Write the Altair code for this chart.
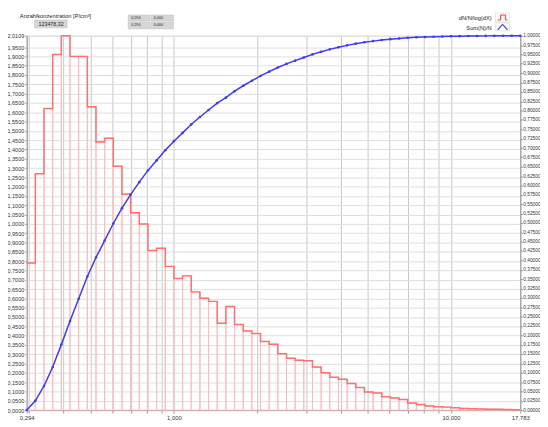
import altair as alt
import pandas as pd

# bin edges (µm), 32 channels per decade
edges = [0.2943, 0.3162, 0.3398, 0.3652, 0.3924, 0.4217, 0.4532, 0.4870, 0.5233, 0.5623,
         0.6043, 0.6494, 0.6978, 0.7499, 0.8058, 0.8660, 0.9306, 1.0000, 1.0746, 1.1548,
         1.2409, 1.3335, 1.4330, 1.5399, 1.6548, 1.7783, 1.9110, 2.0535, 2.2067, 2.3714,
         2.5483, 2.7384, 2.9427, 3.1623, 3.3982, 3.6517, 3.9242, 4.2170, 4.5316, 4.8697,
         5.2330, 5.6234, 6.0430, 6.4938, 6.9783, 7.4989, 8.0584, 8.6596, 9.3057, 10.000,
         10.746, 11.548, 12.409, 13.335, 14.330, 15.399, 16.548, 17.783]

# dN/N/log(dX) per channel
dndlog = [0.79, 1.27, 1.62, 1.91, 2.0109, 1.90, 1.90, 1.63, 1.44, 1.46,
          1.31, 1.16, 1.06, 1.00, 0.857, 0.869, 0.772, 0.707, 0.721, 0.635,
          0.601, 0.584, 0.467, 0.556, 0.460, 0.425, 0.411, 0.369, 0.354, 0.303,
          0.279, 0.268, 0.265, 0.231, 0.201, 0.176, 0.166, 0.143, 0.122, 0.097,
          0.092, 0.072, 0.065, 0.057, 0.038, 0.030, 0.022, 0.018, 0.016, 0.013,
          0.009, 0.007, 0.006, 0.005, 0.004, 0.003, 0.002]

# Sum(N)/N at each edge
cumfrac = [0.0, 0.0247, 0.0645, 0.1151, 0.1749, 0.2378, 0.2973, 0.3567, 0.4077, 0.4528,
           0.4985, 0.5395, 0.5758, 0.6089, 0.6402, 0.6670, 0.6942, 0.7184, 0.7405, 0.7631,
           0.7829, 0.8017, 0.8200, 0.8346, 0.8520, 0.8664, 0.8797, 0.8926, 0.9041, 0.9152,
           0.9247, 0.9334, 0.9418, 0.9501, 0.9573, 0.9636, 0.9691, 0.9743, 0.9788, 0.9826,
           0.9856, 0.9885, 0.9908, 0.9928, 0.9946, 0.9958, 0.9967, 0.9974, 0.9980, 0.9985,
           0.9989, 0.9992, 0.9994, 0.9996, 0.9997, 0.9998, 0.9999, 1.0]

x_grid = [0.2943, 0.3, 0.4, 0.5, 0.6, 0.7, 0.8, 0.9, 1, 2, 3, 4, 5, 6, 7, 8, 9, 10, 17.783]
left_ticks = [round(i * 0.05, 2) for i in range(40)] + [2.0109]
right_ticks = [round(i * 0.025, 3) for i in range(41)]

FONT = "Liberation Sans"
W, H = 501, 380

bins = pd.DataFrame({"lo": edges[:-1], "hi": edges[1:], "h": dndlog})
step = pd.DataFrame({"x": edges, "h": dndlog + [dndlog[-1]]})
cum = pd.DataFrame({"x": edges, "c": cumfrac})

xscale = alt.Scale(type="log", domain=[edges[0], edges[-1]], nice=False)
xaxis = alt.Axis(
    values=x_grid, title=None, grid=True, gridColor="#c8c8c8", gridWidth=1,
    labelExpr="datum.value < 0.295 ? '0,294' : datum.value == 1 ? '1,000' : datum.value == 10 ? '10,000' : datum.value > 17 ? '17,783' : ''",
    labelOverlap=False, labelFontSize=6, labelFont=FONT, labelColor="#333",
    tickSize=3, tickColor="#999", labelPadding=2, domainColor="#999",
    labelBound=False, labelFlush=False,
)
yscale_l = alt.Scale(domain=[0, 2.0109], nice=False, zero=True)
yaxis_l = alt.Axis(
    values=left_ticks, title=None, grid=True, gridColor="#dedede",
    labelExpr="replace(format(datum.value, '.4f'), '.', ',')",
    labelFontSize=5.6, labelFont=FONT, labelColor="#333", labelOverlap=False,
    labelBound=False, labelFlush=False,
    tickSize=2, tickColor="#999", labelPadding=1, domainColor="#999",
)
yscale_r = alt.Scale(domain=[0, 1], nice=False)
yaxis_r = alt.Axis(orient="right", values=right_ticks, title=None, grid=False,
                   labelExpr="replace(format(datum.value, '.5f'), '.', ',')",
                   labelFontSize=4.9, labelFont=FONT, labelColor="#333",
                   labelOverlap=False, labelBound=False, labelFlush=False,
                   tickSize=2, tickColor="#888", labelPadding=0.5, domainColor="#999")

rects = alt.Chart(bins).mark_rect(fill=None, stroke="#ffbcbc", strokeWidth=1).encode(
    x=alt.X("lo:Q", scale=xscale, axis=xaxis),
    x2="hi:Q",
    y=alt.Y("h:Q", scale=yscale_l, axis=yaxis_l),
    y2=alt.datum(0),
)
steps = alt.Chart(step).mark_line(interpolate="step-after", color="#ff7070", strokeWidth=1.5).encode(
    x=alt.X("x:Q", scale=xscale, axis=xaxis),
    y=alt.Y("h:Q", scale=yscale_l, axis=yaxis_l),
)
left = alt.layer(rects, steps)

curve = alt.Chart(cum).mark_line(
    color="#3c3cf0", strokeWidth=1.5,
    point=alt.OverlayMarkDef(color="#3c3cf0", size=7, filled=True),
).encode(
    x=alt.X("x:Q", scale=xscale, axis=xaxis),
    y=alt.Y("c:Q", scale=yscale_r, axis=yaxis_r),
)

one = alt.Data(values=[{}])

def txt(s, x, y, size=5.5, align="left", color="#222"):
    return alt.Chart(one).mark_text(text=s, align=align, baseline="middle", fontSize=size,
                                    font=FONT, color=color).encode(x=alt.value(x), y=alt.value(y))

def box(x1, x2, y1, y2, fill="#d6d6d6", stroke="#bdbdbd"):
    return alt.Chart(one).mark_rect(fill=fill, stroke=stroke, strokeWidth=0.5).encode(
        x=alt.value(x1), x2=alt.value(x2), y=alt.value(y1), y2=alt.value(y2))

def seg(x1, y1, x2, y2, color, w=1.2):
    return alt.Chart(one).mark_rule(color=color, strokeWidth=w).encode(
        x=alt.value(x1), y=alt.value(y1), x2=alt.value(x2), y2=alt.value(y2))

annots = [
    txt("Anzahlkonzentration [P/cm³]", -7, -20, 5.8),
    box(8, 41, -16, -8),
    txt("123478,32", 12, -12, 5.4),
    box(103, 125, -21, -15), box(126, 149, -21, -15),
    box(103, 125, -14, -7), box(126, 149, -14, -7),
    txt("0,294", 106, -18, 3.8), txt("0,000", 129, -18, 3.8),
    txt("0,294", 106, -10.5, 3.8), txt("0,000", 129, -10.5, 3.8),
    txt("dN/N/log(dX)", 472, -18, 5.8, align="right"),
    txt("Sum(N)/N", 472, -8, 5.8, align="right"),
    box(476, 490, -23, -14, fill="white", stroke="#cccccc"),
    box(476, 490, -13, -5, fill="white", stroke="#cccccc"),
    seg(478, -16, 481, -16, "#ff5050"), seg(481, -16, 481, -21, "#ff5050"),
    seg(481, -21, 486, -21, "#ff5050"), seg(486, -21, 486, -16, "#ff5050"),
    seg(486, -16, 488, -16, "#ff5050"),
    seg(478, -6, 483, -11.5, "#3c3cf0"), seg(483, -11.5, 488, -6, "#3c3cf0"),
]

chart = alt.layer(left, curve, *annots).resolve_scale(y="independent").properties(
    width=W, height=H,
    autosize=alt.AutoSizeParams(type="none"),
    padding={"left": 19, "top": 25, "right": 20, "bottom": 14},
).configure_view(stroke="#a8a8a8", strokeWidth=1).configure(background="white")

chart.save("out.html", embed_options={"renderer": "svg", "actions": False})
